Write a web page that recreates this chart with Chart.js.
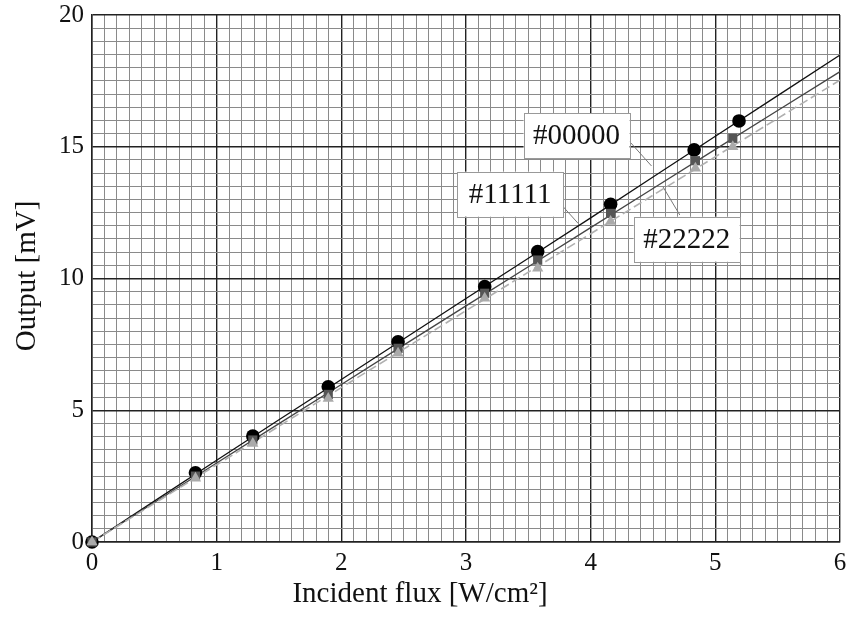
<!DOCTYPE html>
<html><head><meta charset="utf-8">
<script src="https://cdn.jsdelivr.net/npm/chart.js@4/dist/chart.umd.min.js"></script>
<style>html,body{margin:0;padding:0;background:#fff;}#wrap{width:853px;height:622px;}</style>
</head><body><div id="wrap"><canvas id="c" width="853" height="622"></canvas></div>
<script>
// Measured points
const fluxA = [0, 0.83, 1.29, 1.895, 2.455, 3.15, 3.575, 4.16, 4.83, 5.19];
const fluxB = [0, 0.83, 1.29, 1.895, 2.455, 3.15, 3.575, 4.16, 4.84, 5.14];
const out00000 = [0, 2.63, 4.02, 5.89, 7.6, 9.69, 11.02, 12.82, 14.88, 15.98];
const out11111 = [0, 2.5, 3.87, 5.6, 7.35, 9.44, 10.7, 12.47, 14.47, 15.32];
const out22222 = [0, 2.42, 3.74, 5.45, 7.16, 9.25, 10.39, 12.16, 14.18, 15.0];
// Fitted curves
const fitX = [0, 1, 2, 3, 4, 5, 6];
const fit00000 = [0, 3.1, 6.17, 9.24, 12.3, 15.4, 18.48];
const fit11111 = [0, 3.0, 5.98, 8.96, 11.93, 14.9, 17.85];
const fit22222 = [0, 2.93, 5.86, 8.78, 11.7, 14.62, 17.53];
const seriesNames = ['#00000', '#11111', '#22222'];
const xTitle = 'Incident flux [W/cm\u00B2]';
const yTitle = 'Output [mV]';

function pts(xs, ys){ return xs.map((x,i)=>({x:x,y:ys[i]})); }
const isInt = v => Math.abs(v - Math.round(v)) < 1e-6;
const isMult5 = v => isInt(v) && Math.round(v) % 5 === 0;
const FONT = '"Liberation Serif", "DejaVu Serif", serif';

const labelPlugin = {
  id: 'labels',
  afterDatasetsDraw(chart){
    const ctx = chart.ctx, xs = chart.scales.x, ys = chart.scales.y;
    const boxes = [
      {t: seriesNames[0], x: 3.887, y: 15.42, lx: 4.314, ly: 15.19, tx: 4.488, ty: 14.27},
      {t: seriesNames[1], x: 3.354, y: 13.2, lx: 3.78, ly: 12.72, tx: 3.90, ty: 12.09},
      {t: seriesNames[2], x: 4.77, y: 11.49, lx: 4.715, ly: 12.41, tx: 4.58, ty: 13.48}
    ];
    ctx.save();
    boxes.forEach(b => {
      ctx.strokeStyle = '#777'; ctx.lineWidth = 1;
      ctx.beginPath(); ctx.moveTo(xs.getPixelForValue(b.lx), ys.getPixelForValue(b.ly));
      ctx.lineTo(xs.getPixelForValue(b.tx), ys.getPixelForValue(b.ty)); ctx.stroke();
    });
    ctx.font = '29px ' + FONT;
    boxes.forEach(b => {
      const cx = xs.getPixelForValue(b.x), cy = ys.getPixelForValue(b.y);
      const w = 106, h = 45;
      ctx.fillStyle = '#fff';
      ctx.fillRect(cx - w/2, cy - h/2, w, h);
      ctx.strokeStyle = '#999'; ctx.lineWidth = 1;
      ctx.strokeRect(Math.round(cx - w/2) + 0.5, Math.round(cy - h/2) + 0.5, w, h);
      ctx.fillStyle = '#111'; ctx.textAlign = 'center'; ctx.textBaseline = 'middle';
      ctx.fillText(b.t, cx, cy + 1);
    });
    ctx.fillStyle = '#111';
    ctx.font = '29px ' + FONT;
    ctx.textAlign = 'center'; ctx.textBaseline = 'middle';
    ctx.fillText(xTitle, 420, 594);
    ctx.translate(27, 276); ctx.rotate(-Math.PI/2);
    ctx.fillText(yTitle, 0, 0);
    ctx.restore();
  }
};

new Chart(document.getElementById('c'), {
  type: 'scatter',
  data: {
    datasets: [
      {label: seriesNames[2], data: pts(fluxB, out22222), pointStyle: 'triangle', pointRadius: 6.5, backgroundColor: '#aaaaaa', borderColor: '#aaaaaa', borderWidth: 0, showLine: false, clip: false},
      {label: seriesNames[1], data: pts(fluxB, out11111), pointStyle: 'rect', pointRadius: 6.5, backgroundColor: '#555555', borderColor: '#555555', borderWidth: 0, showLine: false, clip: false},
      {label: seriesNames[0], data: pts(fluxA, out00000), pointStyle: 'circle', pointRadius: 6.8, backgroundColor: '#000', borderColor: '#000', borderWidth: 0, showLine: false, clip: false},
      {label: seriesNames[2]+' fit', data: pts(fitX, fit22222), showLine: true, pointRadius: 0, borderColor: '#b0b0b0', borderWidth: 1.6, borderDash: [9, 4], tension: 0.4},
      {label: seriesNames[1]+' fit', data: pts(fitX, fit11111), showLine: true, pointRadius: 0, borderColor: '#444', borderWidth: 1.3, tension: 0.4},
      {label: seriesNames[0]+' fit', data: pts(fitX, fit00000), showLine: true, pointRadius: 0, borderColor: '#111', borderWidth: 1.3, tension: 0.4}
    ]
  },
  options: {
    responsive: false, animation: false, devicePixelRatio: 1,
    layout: {padding: {left: 0, right: 13, top: 15, bottom: 0}},
    plugins: {legend: {display: false}, tooltip: {enabled: false}},
    scales: {
      x: {
        type: 'linear', min: 0, max: 6,
        afterFit(s){ s.height = 80; },
        afterBuildTicks(s){ const t=[]; for(let i=0;i<=60;i++) t.push({value: i/10}); s.ticks = t; },
        ticks: {autoSkip: false, maxRotation: 0, padding: 6, color: '#111', font: {family: FONT, size: 25},
          callback: v => isInt(v) ? String(Math.round(v)) : ''},
        grid: {drawTicks: false, color: c => isInt(c.tick.value) ? '#222' : '#8a8a8a', lineWidth: c => isInt(c.tick.value) ? 1.4 : 1},
        border: {color: '#222', width: 1.5}
      },
      y: {
        type: 'linear', min: 0, max: 20,
        afterFit(s){ s.width = 92; },
        afterBuildTicks(s){ const t=[]; for(let i=0;i<=40;i++) t.push({value: i/2}); s.ticks = t; },
        ticks: {autoSkip: false, padding: 8, color: '#111', font: {family: FONT, size: 25, lineHeight: 0.5},
          callback: v => isMult5(v) ? String(Math.round(v)) : ''},
        grid: {drawTicks: false, color: c => isMult5(c.tick.value) ? '#222' : '#8a8a8a', lineWidth: c => isMult5(c.tick.value) ? 1.4 : 1},
        border: {color: '#222', width: 1.5}
      }
    }
  },
  plugins: [labelPlugin]
});
</script></body></html>
